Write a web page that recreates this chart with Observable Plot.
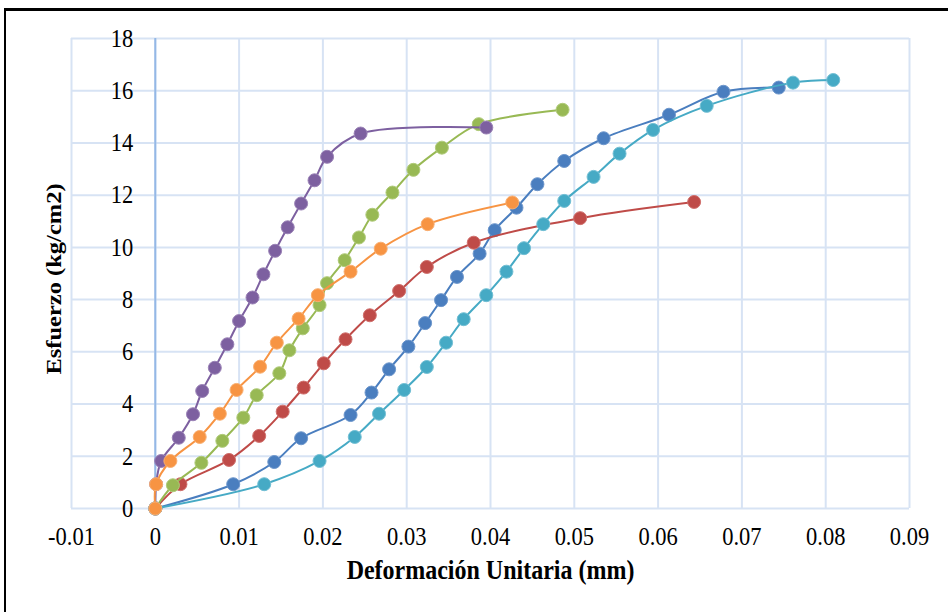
<!DOCTYPE html>
<html>
<head>
<meta charset="utf-8">
<script src="https://cdn.jsdelivr.net/npm/d3@7"></script>
<script src="https://cdn.jsdelivr.net/npm/@observablehq/plot@0.6"></script>
<style>
  html, body { margin: 0; padding: 0; background: #fff; }
  #chart { position: relative; width: 948px; height: 612px; overflow: hidden; }
  #chart svg { position: absolute; left: 0; top: 0; }
  #chart svg text { font-family: "Liberation Serif", "Times New Roman", Times, serif !important; }
  #frame { position: absolute; left: 4px; top: 8px; width: 980px; height: 640px;
           border-top: 3px solid #000; border-left: 2px solid #000; pointer-events: none; }
</style>
</head>
<body>
<div id="chart"><div id="frame"></div></div>
<script>
// Axis ticks and titles
const xTicks = [-0.01, 0, 0.01, 0.02, 0.03, 0.04, 0.05, 0.06, 0.07, 0.08, 0.09];
const xTickLabels = ["-0.01", "0", "0.01", "0.02", "0.03", "0.04", "0.05", "0.06", "0.07", "0.08", "0.09"];
const yTicks = [0, 2, 4, 6, 8, 10, 12, 14, 16, 18];
const yTickLabels = ["0", "2", "4", "6", "8", "10", "12", "14", "16", "18"];
const xTitle = "Deformación Unitaria (mm)";
const yTitle = "Esfuerzo (kg/cm2)";

// Stress–strain readings, one pair of arrays per specimen
const blueX = [0, 0.0093, 0.0142, 0.0174, 0.0233, 0.0258, 0.0279, 0.0302, 0.0322, 0.0341, 0.0360, 0.0387, 0.0405, 0.0431, 0.0456, 0.0488, 0.0535, 0.0613, 0.0678, 0.0744];
const blueY = [0, 0.93, 1.78, 2.69, 3.58, 4.44, 5.33, 6.20, 7.10, 7.98, 8.87, 9.76, 10.66, 11.52, 12.42, 13.31, 14.18, 15.08, 15.96, 16.12];

const redX = [0, 0.0030, 0.0088, 0.0124, 0.0152, 0.0177, 0.0201, 0.0227, 0.0256, 0.0291, 0.0324, 0.0380, 0.0507, 0.0643];
const redY = [0, 0.93, 1.86, 2.78, 3.71, 4.63, 5.56, 6.48, 7.40, 8.33, 9.25, 10.18, 11.12, 11.74];

const greenX = [0, 0.0021, 0.0055, 0.0080, 0.0105, 0.0121, 0.0148, 0.0160, 0.0176, 0.0196, 0.0205, 0.0226, 0.0243, 0.0259, 0.0283, 0.0308, 0.0342, 0.0386, 0.0486];
const greenY = [0, 0.89, 1.75, 2.59, 3.48, 4.34, 5.18, 6.06, 6.90, 7.79, 8.63, 9.51, 10.38, 11.25, 12.10, 12.97, 13.82, 14.72, 15.27];

const purpleX = [0, 0.0001, 0.0007, 0.0028, 0.0045, 0.0056, 0.0071, 0.0086, 0.0100, 0.0116, 0.0129, 0.0143, 0.0158, 0.0174, 0.0190, 0.0205, 0.0245, 0.0395];
const purpleY = [0, 0.93, 1.82, 2.71, 3.61, 4.50, 5.39, 6.29, 7.18, 8.08, 8.97, 9.87, 10.77, 11.68, 12.57, 13.47, 14.36, 14.59];

const cyanX = [0, 0.0130, 0.0196, 0.0238, 0.0267, 0.0297, 0.0324, 0.0347, 0.0368, 0.0395, 0.0419, 0.0440, 0.0463, 0.0488, 0.0523, 0.0554, 0.0594, 0.0658, 0.0761, 0.0809];
const cyanY = [0, 0.93, 1.82, 2.74, 3.63, 4.54, 5.42, 6.35, 7.25, 8.17, 9.07, 9.97, 10.89, 11.78, 12.70, 13.59, 14.50, 15.42, 16.31, 16.41];

const orangeX = [0, 0.0001, 0.0018, 0.0053, 0.0077, 0.0097, 0.0125, 0.0145, 0.0171, 0.0194, 0.0233, 0.0269, 0.0325, 0.0426];
const orangeY = [0, 0.93, 1.82, 2.74, 3.63, 4.54, 5.43, 6.35, 7.27, 8.17, 9.07, 9.95, 10.89, 11.72];

const series = [
  {x: blueX, y: blueY, fill: "#4A7EBF", edge: "#6E97CC"},
  {x: redX, y: redY, fill: "#BF4B48", edge: "#D0716E"},
  {x: greenX, y: greenY, fill: "#98B954", edge: "#B0CB7A"},
  {x: purpleX, y: purpleY, fill: "#7D60A0", edge: "#9A82B6"},
  {x: cyanX, y: cyanY, fill: "#46AAC5", edge: "#72BFD4"},
  {x: orangeX, y: orangeY, fill: "#F79443", edge: "#F9AE70"}
];

const gridColor = "#D7E3F4";
const axisColor = "#94B8E6";
const font = "Liberation Serif, Times New Roman, serif";

const seriesMarks = series.flatMap(s => {
  const pts = s.x.map((x, i) => ({x, y: s.y[i]}));
  return [
    Plot.line(pts, {x: "x", y: "y", stroke: s.fill, strokeWidth: 2, curve: "catmull-rom"}),
    Plot.dot(pts, {x: "x", y: "y", r: 6.5, fill: s.fill, stroke: s.edge, strokeWidth: 1})
  ];
});

const chart = Plot.plot({
  width: 948,
  height: 612,
  marginLeft: 71,
  marginRight: 39,
  marginTop: 38,
  marginBottom: 104,
  x: {domain: [-0.01, 0.09], axis: null},
  y: {domain: [0, 18], axis: null},
  style: {fontFamily: font, background: "transparent", color: "#000"},
  marks: [
    Plot.ruleX(xTicks, {stroke: gridColor, strokeWidth: 2}),
    Plot.ruleY(yTicks, {stroke: gridColor, strokeWidth: 2}),
    Plot.ruleX([0], {stroke: axisColor, strokeWidth: 2}),
    Plot.text(yTicks, {x: 0, y: d => d, text: (d, i) => yTickLabels[i], dx: -22, textAnchor: "end", lineAnchor: "middle", fontSize: 22.5, fontFamily: font, fill: "#000"}),
    Plot.text(xTicks, {x: d => d, frameAnchor: "bottom", dy: 28.5, text: (d, i) => xTickLabels[i], textAnchor: "middle", lineAnchor: "middle", fontSize: 22.5, fontFamily: font, fill: "#000"}),
    Plot.text([xTitle], {text: d => d, frameAnchor: "bottom", dy: 62, textAnchor: "middle", lineAnchor: "middle", fontSize: 24, fontWeight: "bold", fontFamily: font, fill: "#000"}),
    Plot.text([yTitle], {text: d => d, frameAnchor: "left", dx: -17, dy: 5.5, rotate: -90, textAnchor: "middle", lineAnchor: "middle", fontSize: 21.5, fontWeight: "bold", fontFamily: font, fill: "#000"}),
    ...seriesMarks
  ]
});

// The lettering of this chart is drawn slightly tall: stretch each label
// vertically on screen about its own anchor point.
const stretch = 1.14;
d3.select(chart).selectAll("text").each(function() {
  const t = this.getAttribute("transform");
  if (t) {
    const extra = t.includes("rotate") ? ` scale(${stretch},1)` : ` scale(1,${stretch})`;
    this.setAttribute("transform", t + extra);
  } else {
    const x = +this.getAttribute("x") || 0, y = +this.getAttribute("y") || 0;
    this.setAttribute("transform", `translate(${x},${y}) scale(1,${stretch}) translate(${-x},${-y})`);
  }
});

document.getElementById("chart").prepend(chart);
</script>
</body>
</html>
